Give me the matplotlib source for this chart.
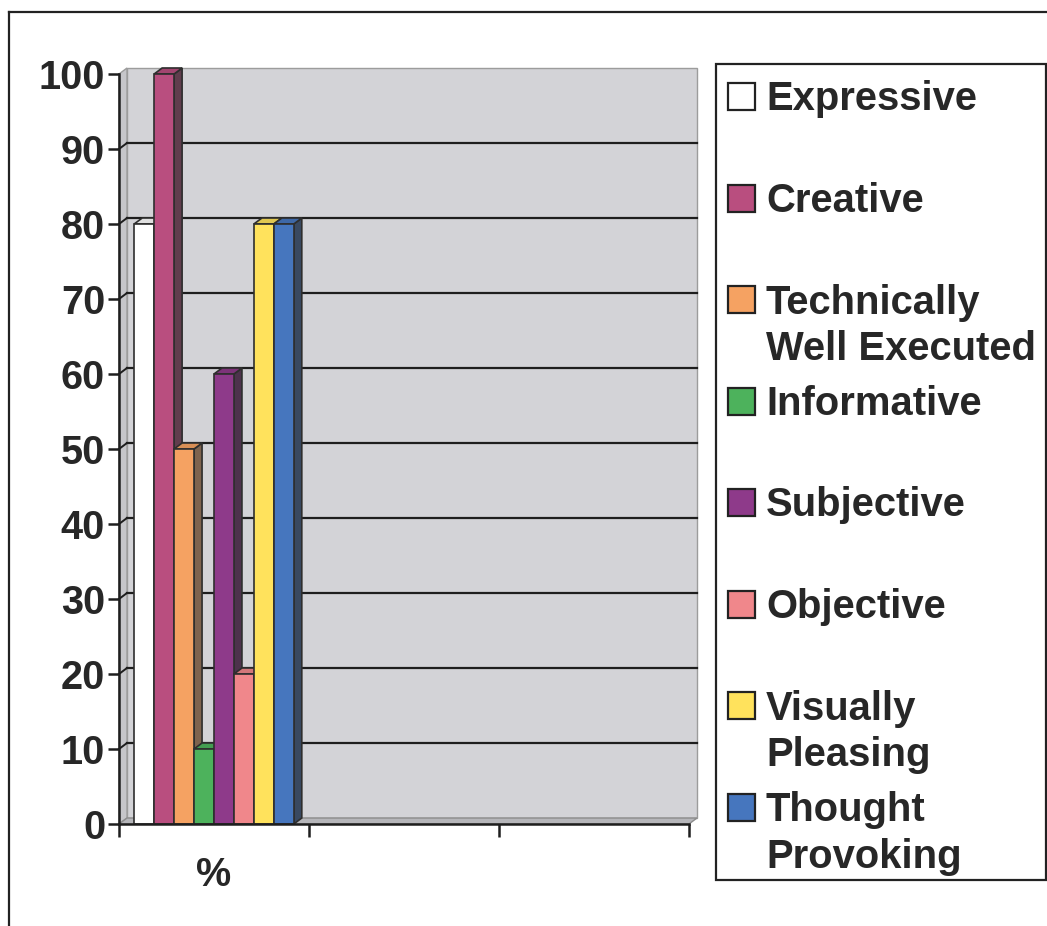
import matplotlib
matplotlib.use("Agg")
import matplotlib.pyplot as plt
from matplotlib.patches import Polygon, Rectangle
from matplotlib.lines import Line2D
from matplotlib.colors import to_rgb

plt.rcParams['font.family'] = ['Liberation Sans', 'DejaVu Sans']
plt.rcParams['font.weight'] = 'bold'

# survey answers, percent of respondents
labels = ["Expressive", "Creative", "Technically\nWell Executed", "Informative",
          "Subjective", "Objective", "Visually\nPleasing", "Thought\nProvoking"]
values = [80, 100, 50, 10, 60, 20, 80, 80]
colors = ["#FFFFFF", "#B94E7F", "#F5A262", "#4DB25C",
          "#8E3A8A", "#F0878B", "#FFE25C", "#4676BE"]
categories = ["%", "", ""]
yticks = [0, 10, 20, 30, 40, 50, 60, 70, 80, 90, 100]

W, H = 1047, 926
TXT = "#272727"
EDGE = "#2e2e2e"

fig = plt.figure(figsize=(W / 100, H / 100), dpi=100)

def fx(x):
    return x / W

def fy(y):
    return 1 - y / H

# plot area in pixels
ax_l, ax_r, ax_t, ax_b = 119, 689, 74, 824
ax = fig.add_axes([fx(ax_l), fy(ax_b), fx(ax_r) - fx(ax_l), fy(ax_t) - fy(ax_b)])
ax.set_xlim(0, len(categories))
ax.set_ylim(0, 100)
ax.patch.set_visible(False)

# 3d depth offset (8 px right, 6 px up) in data units
DX = 8 / ((ax_r - ax_l) / len(categories))
DY = 6 / ((ax_b - ax_t) / 100)

# walls and floor
ax.add_patch(Polygon([(DX, DY), (len(categories) + DX, DY),
                      (len(categories) + DX, 100 + DY), (DX, 100 + DY)],
                     closed=True, facecolor="#D3D3D7", edgecolor="#9c9c9c",
                     linewidth=1, zorder=0.5, clip_on=False))
ax.add_patch(Polygon([(0, 0), (DX, DY), (DX, 100 + DY), (0, 100)],
                     closed=True, facecolor="#C6C6CA", edgecolor="#9c9c9c",
                     linewidth=1, zorder=0.6, clip_on=False))
ax.add_patch(Polygon([(0, 0), (len(categories), 0),
                      (len(categories) + DX, DY), (DX, DY)],
                     closed=True, facecolor="#B6B6BA", edgecolor="#8c8c8c",
                     linewidth=1, zorder=0.6, clip_on=False))
for t in yticks[1:-1]:
    ax.plot([DX, len(categories) + DX], [t + DY, t + DY], color="#1e1e1e",
            linewidth=1.6, zorder=1, clip_on=False)
    ax.plot([0, DX], [t, t + DY], color="#1e1e1e", linewidth=1.4,
            zorder=1, clip_on=False)

# bars with top and side faces
n = len(values)
group = 0.84
bw = group / n
x0 = 0.5 - group / 2

def shade(c, f, grey=0.0):
    r, g, b = to_rgb(c)
    m = (r + g + b) / 3
    return tuple(((1 - grey) * v + grey * m) * f for v in (r, g, b))

for i, (v, c) in enumerate(zip(values, colors)):
    x = x0 + i * bw
    z = 3 + i * 0.1
    side = shade(c, 0.6, 0.45) if c != "#FFFFFF" else "#d8d8d8"
    ax.add_patch(Polygon([(x + bw, 0), (x + bw + DX, DY), (x + bw + DX, v + DY), (x + bw, v)],
                         closed=True, facecolor=side, edgecolor=EDGE, linewidth=1.2,
                         zorder=z, clip_on=False))
    ax.add_patch(Polygon([(x, v), (x + bw, v), (x + bw + DX, v + DY), (x + DX, v + DY)],
                         closed=True, facecolor=shade(c, 0.88), edgecolor=EDGE,
                         linewidth=1.2, zorder=z, clip_on=False))
    ax.bar(x, v, width=bw, align="edge", color=c, edgecolor=EDGE,
           linewidth=1.2, zorder=z + 0.05, clip_on=False)

# axes lines and ticks
for s in ["top", "right"]:
    ax.spines[s].set_visible(False)
for s in ["left", "bottom"]:
    ax.spines[s].set_linewidth(1.8)
    ax.spines[s].set_color("#1e1e1e")
    ax.spines[s].set_zorder(5)
ax.set_yticks(yticks)
ax.set_yticklabels([str(t) for t in yticks])
ax.tick_params(axis="y", direction="out", length=8, width=1.8, color="#1e1e1e",
               pad=2, labelsize=28.5, labelcolor=TXT)
ax.set_xticks(range(len(categories) + 1))
ax.set_xticklabels([""] * (len(categories) + 1))
ax.tick_params(axis="x", which="major", direction="out", length=9, width=1.8,
               color="#1e1e1e")
ax.set_xticks([i + 0.5 for i in range(len(categories))], minor=True)
ax.set_xticklabels(categories, minor=True)
ax.tick_params(axis="x", which="minor", length=0, pad=23, labelsize=28.5,
               labelcolor=TXT)

# legend box drawn by hand
fig.add_artist(Rectangle((fx(716), fy(880)), fx(1046) - fx(716), fy(64) - fy(880),
                         transform=fig.transFigure, facecolor="white",
                         edgecolor="#222222", linewidth=1.6))
for i, (lab, c) in enumerate(zip(labels, colors)):
    cy = 96.5 + i * 101.5
    fig.add_artist(Rectangle((fx(728), fy(cy + 13.5)), fx(27), fy(0) - fy(27),
                             transform=fig.transFigure, facecolor=c,
                             edgecolor="#222222", linewidth=1.6))
    for j, line in enumerate(lab.split("\n")):
        fig.text(fx(766), fy(cy + 14 + j * 47), line, fontsize=28.8,
                 fontweight="bold", color=TXT, ha="left", va="baseline")

# outer frame
fig.add_artist(Line2D([fx(9), fx(W)], [fy(12), fy(12)], transform=fig.transFigure,
                      color="#222222", linewidth=1.6))
fig.add_artist(Line2D([fx(9), fx(9)], [fy(12), fy(H)], transform=fig.transFigure,
                      color="#222222", linewidth=1.6))

fig.savefig("out.png", dpi=100)
